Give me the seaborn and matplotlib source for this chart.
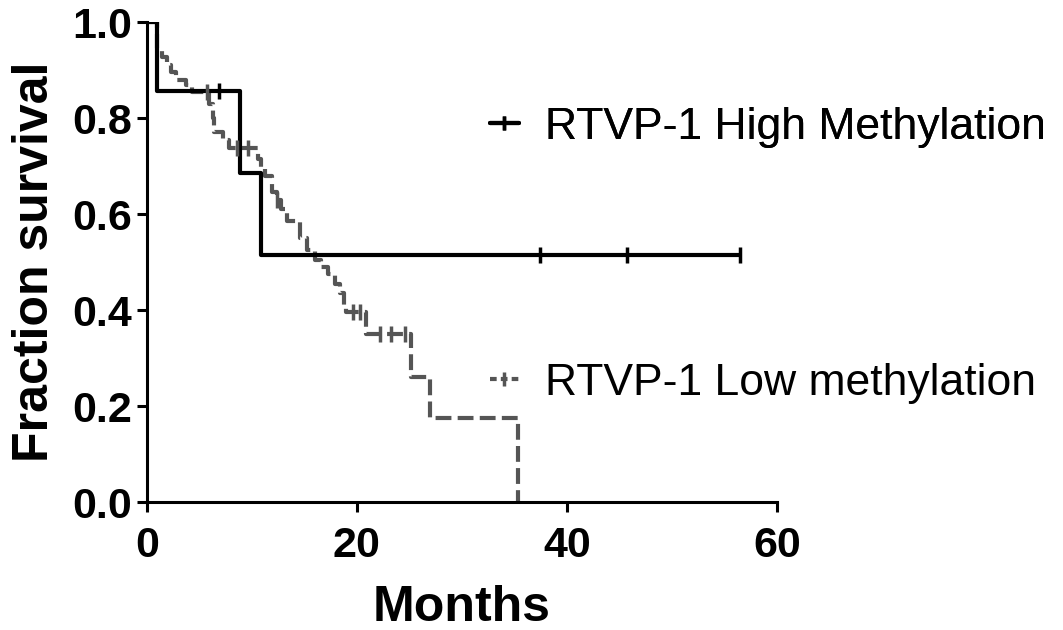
import numpy as np
import pandas as pd
import matplotlib
matplotlib.use('Agg')
import matplotlib.pyplot as plt
from matplotlib.lines import Line2D
import seaborn as sns

# curva RTVP-1 alta metilação (degraus)
t_alta = [0, 1.0, 8.9, 10.9, 56.5]
s_alta = [1.0, 0.857, 0.686, 0.514, 0.514]
cens_alta_t = [6.9, 37.4, 45.7, 56.5]
cens_alta_s = [0.857, 0.514, 0.514, 0.514]

# curva RTVP-1 baixa metilação
t_baixa = [0, 1.0, 1.5, 1.9, 2.3, 2.8, 3.7, 4.3, 5.9, 6.3, 6.4, 7.3, 7.8,
           10.6, 10.9, 11.3, 11.9, 12.4, 12.8, 13.4, 14.6, 15.3, 16.0, 16.6,
           17.3, 17.9, 18.4, 18.8, 19.0, 20.9, 25.2, 27.0, 35.3]
s_baixa = [1.0, 0.946, 0.928, 0.91, 0.895, 0.88, 0.868, 0.855, 0.83, 0.80,
           0.77, 0.755, 0.737, 0.715, 0.695, 0.68, 0.645, 0.63, 0.61, 0.585,
           0.55, 0.525, 0.505, 0.49, 0.475, 0.455, 0.435, 0.41, 0.395, 0.35,
           0.26, 0.175, 0.0]
cens_baixa_t = [5.7, 8.6, 9.6, 12.4, 19.6, 20.3, 22.2, 23.3, 24.6]
cens_baixa_s = [0.855, 0.737, 0.737, 0.63, 0.395, 0.395, 0.35, 0.35, 0.35]

rotulos = ['RTVP-1 High Methylation', 'RTVP-1 Low methylation']

sns.set_style('ticks')
plt.rcParams['font.family'] = ['Liberation Sans', 'DejaVu Sans']
plt.rcParams['text.color'] = 'black'
plt.rcParams['axes.labelcolor'] = 'black'

fig = plt.figure(figsize=(10.63, 6.3), dpi=100)
ax = fig.add_axes([0.138, 0.203, 0.593, 0.762])

cinza = '#555555'
df_alta = pd.DataFrame({'Meses': t_alta, 'Sobrevida': s_alta})
df_baixa = pd.DataFrame({'Meses': t_baixa, 'Sobrevida': s_baixa})

sns.lineplot(data=df_baixa, x='Meses', y='Sobrevida', ax=ax, color=cinza,
             linewidth=3, estimator=None, drawstyle='steps-post',
             dashes=False, linestyle=(0, (3.8, 1.5)))
sns.lineplot(data=df_alta, x='Meses', y='Sobrevida', ax=ax, color='black',
             linewidth=3, estimator=None, drawstyle='steps-post')

ax.plot(cens_baixa_t, cens_baixa_s, linestyle='none', marker='|',
        markersize=11, markeredgewidth=2.5, color=cinza)
ax.plot(cens_alta_t, cens_alta_s, linestyle='none', marker='|',
        markersize=11, markeredgewidth=2.5, color='black')

ax.set_xlim(0, 60)
ax.set_ylim(0, 1.0)
ax.set_xticks([0, 20, 40, 60])
ax.set_yticks([0.0, 0.2, 0.4, 0.6, 0.8, 1.0])
ax.set_yticklabels(['0.0', '0.2', '0.4', '0.6', '0.8', '1.0'])
ax.margins(0)

for lado in ['top', 'right']:
    ax.spines[lado].set_visible(False)
for lado in ['left', 'bottom']:
    ax.spines[lado].set_linewidth(2.2)
    ax.spines[lado].set_color('black')

ax.tick_params(axis='both', width=2.2, length=7, labelsize=31, colors='black',
               direction='out')
ax.tick_params(axis='x', pad=10)
for lbl in ax.get_xticklabels() + ax.get_yticklabels():
    lbl.set_fontweight('bold')

ax.set_xlabel('Months', fontsize=36, fontweight='bold', labelpad=14)
ax.set_ylabel('Fraction survival', fontsize=36, fontweight='bold', labelpad=10)

h_alta = Line2D([], [], color='black', linewidth=3, marker='|',
                markersize=10, markeredgewidth=2.5)
h_baixa = Line2D([], [], color=cinza, linewidth=3, marker='|',
                 markersize=10, markeredgewidth=2.5, linestyle=(0, (1.6, 1.0)))

leg1 = fig.legend(handles=[h_alta], labels=[rotulos[0]], loc='center left',
                  bbox_to_anchor=(0.423, 0.798), frameon=False, fontsize=32,
                  handlelength=0.65, handletextpad=0.6)
leg2 = fig.legend(handles=[h_baixa], labels=[rotulos[1]], loc='center left',
                  bbox_to_anchor=(0.423, 0.392), frameon=False, fontsize=32,
                  handlelength=0.65, handletextpad=0.6)
fig.add_artist(leg1)

plt.savefig('out.png', dpi=100)
